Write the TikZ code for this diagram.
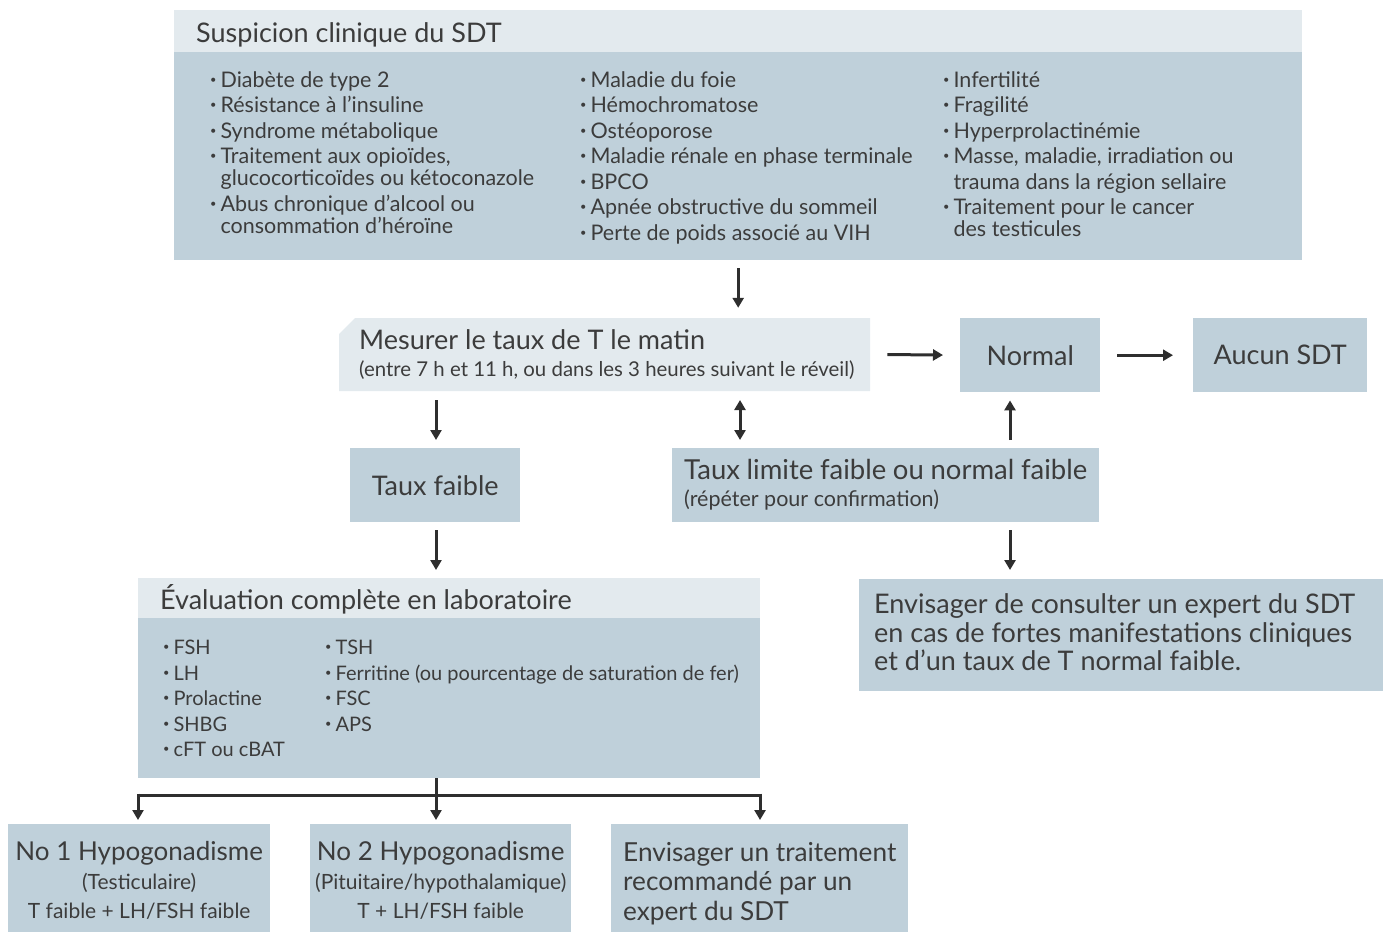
\documentclass[tikz,border=0pt]{standalone}
\usepackage{fontspec}
\setmainfont{Lato}
\usepackage{tikz}
\usetikzlibrary{arrows.meta}
\definecolor{sdt_dark}{HTML}{BFD0DA}
\definecolor{sdt_light}{HTML}{E3EAEE}
\definecolor{sdt_text}{HTML}{3C3C3C}
\definecolor{sdt_arrow}{HTML}{2E2E2E}
\newcommand{\itm}{{\fontsize{11}{11}\selectfont\raisebox{0.35em}{•}}\hspace{4pt}}
\newcommand{\fs}[2]{\fontsize{#1}{#2}\selectfont}

\tikzset{
  box/.style={fill=sdt_dark, inner sep=0pt, anchor=north west, text=sdt_text},
  headbox/.style={fill=sdt_light, inner sep=0pt, anchor=north west},
  txt/.style={inner sep=0pt, anchor=north west, align=left, text=sdt_text},
  lbox/.style={align=left, execute at begin node={\spaceskip=0pt\xspaceskip=0pt}},
  line/.style={draw=sdt_arrow, line width=3pt},
  arr/.style={line, -{Triangle[length=10pt,width=11pt]}},
  dblarr/.style={line, {Triangle[length=10pt,width=11pt]}-{Triangle[length=10pt,width=11pt]}}
}

\begin{document}
\begin{tikzpicture}[x=1pt, y=-1pt]
    \useasboundingbox (0,0) rectangle (1384,932);

    % suspicion clinique
    \node (susp) [box, minimum width=1128, minimum height=250] at (174,10) {};
    \node (susphead) [headbox, minimum width=1128, minimum height=42] at (174,10) {};
    \node (susptitle) [txt, anchor=base west, font=\fs{27}{30}] at (196,42) {Suspicion clinique du SDT};
    \node (col1) [txt, font=\fs{21.5}{22}] at (210,71) {%
        \itm Diabète de type 2\\[3.5pt]
        \itm Résistance à l’insuline\\[3.5pt]
        \itm Syndrome métabolique\\[3.5pt]
        \itm Traitement aux opioïdes,\\
        \hphantom{\itm}glucocorticoïdes ou kétoconazole\\[3.5pt]
        \itm Abus chronique d’alcool ou\\
        \hphantom{\itm}consommation d’héroïne};
    \node (col2) [txt, font=\fs{21.5}{22}] at (580,71) {%
        \itm Maladie du foie\\[3.5pt]
        \itm Hémochromatose\\[3.5pt]
        \itm Ostéoporose\\[3.5pt]
        \itm Maladie rénale en phase terminale\\[3.5pt]
        \itm BPCO\\[3.5pt]
        \itm Apnée obstructive du sommeil\\[3.5pt]
        \itm Perte de poids associé au VIH};
    \node (col3) [txt, font=\fs{21.5}{22}] at (943,71) {%
        \itm Infertilité\\[3.5pt]
        \itm Fragilité\\[3.5pt]
        \itm Hyperprolactinémie\\[3.5pt]
        \itm Masse, maladie, irradiation ou\\[3.5pt]
        \hphantom{\itm}trauma dans la région sellaire\\[3.5pt]
        \itm Traitement pour le cancer\\
        \hphantom{\itm}des testicules};

    % mesure du taux
    \fill [sdt_light] (339,334) -- (355,318) -- (870,318) -- (870,391) -- (339,391) -- cycle;
    \node (mesure) [txt, lbox, minimum height=73, anchor=west,
        text width=505, inner xsep=20pt, font=\fs{27}{27}] at (339,354.5)
        {Mesurer le taux de T le matin\\
         \fs{20.4}{27}(entre 7 h et 11 h, ou dans les 3 heures suivant le réveil)};

    \node (normal) [box, minimum width=140, minimum height=74, font=\fs{27}{30}] at (960,318) {Normal};
    \node (aucun) [box, minimum width=174, minimum height=74, font=\fs{27}{30}] at (1193,318) {Aucun SDT};

    \node (faible) [box, minimum width=170, minimum height=74, font=\fs{27}{30}] at (350,448) {Taux faible};
    \node (limite) [box, lbox, minimum width=427, minimum height=74, text width=403,
        inner xsep=12pt, font=\fs{27.5}{27}] at (672,448)
        {Taux limite faible ou normal faible\\
         \fs{21.5}{27}(répéter pour confirmation)};

    % evaluation en laboratoire
    \node (eval) [box, minimum width=622, minimum height=200] at (138,578) {};
    \node (evalhead) [headbox, minimum width=622, minimum height=40] at (138,578) {};
    \node (evaltitle) [txt, anchor=base west, font=\fs{27}{30}] at (160,609) {Évaluation complète en laboratoire};
    \node (lab1) [txt, font=\fs{20}{25.5}] at (163,640) {%
        \itm FSH\\ \itm LH\\ \itm Prolactine\\ \itm SHBG\\ \itm cFT ou cBAT};
    \node (lab2) [txt, font=\fs{20}{25.5}] at (325,640) {%
        \itm TSH\\ \itm Ferritine (ou pourcentage de saturation de fer)\\ \itm FSC\\ \itm APS};

    \node (expert) [box, lbox, minimum width=524, minimum height=112, text width=498,
        inner xsep=13pt, font=\fs{27}{28.5}] at (859,579)
        {\hspace*{2pt}Envisager de consulter un expert du SDT\\
         \hspace*{2pt}en cas de fortes manifestations cliniques\\
         \hspace*{2pt}et d’un taux de T normal faible.\rule[-6pt]{0pt}{1pt}};

    % hypogonadisme
    \node (hypo1) [box, minimum width=262, minimum height=108, align=center,
        font=\fs{21}{29}] at (8,824)
        {\fs{26}{29}\rule{0pt}{24pt}No 1 Hypogonadisme\\
         \fs{21}{29}(Testiculaire)\\ T faible + LH/FSH faible};
    \node (hypo2) [box, minimum width=261, minimum height=108, align=center,
        font=\fs{21}{29}] at (310,824)
        {\fs{26}{29}\rule{0pt}{24pt}No 2 Hypogonadisme\\
         \fs{21}{29}(Pituitaire/hypothalamique)\\ T + LH/FSH faible};
    \node (traite) [box, lbox, minimum width=297, minimum height=108, text width=275,
        inner xsep=11pt, font=\fs{26.2}{29.5}] at (611,824)
        {\hspace*{1pt}\rule{0pt}{30pt}Envisager un traitement\\ \hspace*{1pt}recommandé par un\\ \hspace*{1pt}expert du SDT};

    % fleches
    \coordinate (dbl) at (740,391);
    \coordinate (up) at (1010,448);
    \coordinate (brL) at (138,795);
    \coordinate (brM) at (436,778);
    \coordinate (brR) at (760,795);

    \draw [arr, shorten <=8pt, shorten >=10pt] (susp.south) -- (susp.south |- mesure.north);
    \draw [arr, shorten <=3pt, shorten >=17pt] (mesure.east) -- (normal.west);
    \draw [arr, shorten <=17pt, shorten >=20pt] (normal.east) -- (aucun.west);
    \draw [arr, shorten <=9pt, shorten >=8pt] (brM |- mesure.south) -- (brM |- faible.north);
    \draw [dblarr, shorten <=9pt, shorten >=8pt] (dbl) -- (dbl |- limite.north);
    \draw [arr, shorten <=8pt, shorten >=8pt] (up) -- (up |- normal.south);
    \draw [arr, shorten <=8pt, shorten >=9pt] (up |- limite.south) -- (up |- expert.north);
    \draw [arr, shorten <=8pt, shorten >=8pt] (brM |- faible.south) -- (brM |- eval.north);
    \draw [line] (brL) -- (brR);
    \draw [arr, shorten >=4pt] (brM) -- (brM |- hypo2.north);
    \draw [arr, shorten <=-1.5pt, shorten >=4pt] (brL) -- (brL |- hypo1.north);
    \draw [arr, shorten <=-1.5pt, shorten >=4pt] (brR) -- (brR |- traite.north);

\end{tikzpicture}
\end{document}
